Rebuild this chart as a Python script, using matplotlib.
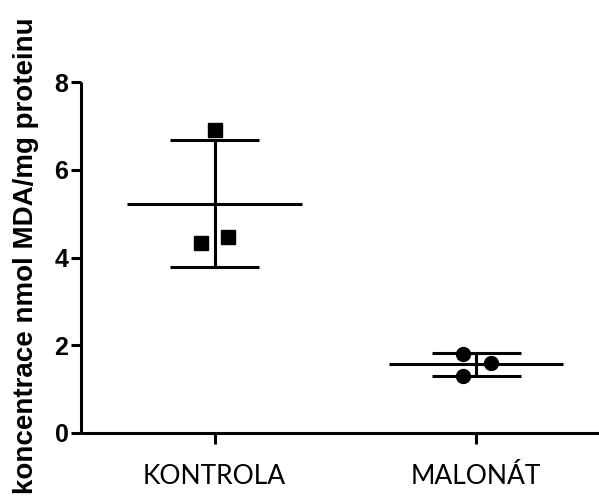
import numpy as np
import matplotlib
matplotlib.use("Agg")
import matplotlib.pyplot as plt

# group names and single measurements (nmol MDA / mg protein)
groups = ["KONTROLA", "MALONÁT"]
kontrola = [6.91, 4.32, 4.46]
malonat = [1.81, 1.59, 1.29]
# horizontal scatter of the points inside each group
kontrola_jitter = [0.0, -0.053, 0.053]
malonat_jitter = [-0.05, 0.057, -0.05]
markers = ["s", "o"]

fig = plt.figure(figsize=(5.99, 5.0), dpi=100)
ax = fig.add_axes([81 / 599, 67 / 500, 1 - 81 / 599, 351 / 500])

data = [kontrola, malonat]
jitters = [kontrola_jitter, malonat_jitter]
for i, (vals, jit) in enumerate(zip(data, jitters)):
    vals = np.array(vals)
    m = vals.mean()
    sd = vals.std(ddof=1)
    # mean line
    ax.plot([i - 0.334, i + 0.334], [m, m], color="black", lw=2.2, solid_capstyle="butt", zorder=2)
    # SD bar with caps
    ax.plot([i, i], [m - sd, m + sd], color="black", lw=2.2, solid_capstyle="butt", zorder=2)
    for y in (m - sd, m + sd):
        ax.plot([i - 0.17, i + 0.17], [y, y], color="black", lw=2.2, solid_capstyle="butt", zorder=2)
    ax.plot(i + np.array(jit), vals, linestyle="none", marker=markers[i],
            markersize=10, color="black", zorder=3)

ax.set_xlim(-0.511, 1.47)
ax.set_ylim(0, 8)
ax.set_yticks([0, 2, 4, 6, 8])
ax.set_xticks([0, 1])
ax.set_xticklabels(groups, fontfamily="Lato", fontsize=19)
for lab in ax.get_yticklabels():
    lab.set_fontfamily("Liberation Sans")
    lab.set_fontweight("bold")
    lab.set_fontsize(18)

ax.spines["top"].set_visible(False)
ax.spines["right"].set_visible(False)
for s in ("left", "bottom"):
    ax.spines[s].set_linewidth(2.2)
    ax.spines[s].set_capstyle("butt")
ax.tick_params(axis="both", width=2.2, color="black")
ax.tick_params(axis="x", length=8, pad=14)
ax.tick_params(axis="y", length=7, pad=2)

fig.text(26 / 599, 244 / 500, "koncentrace nmol MDA/mg proteinu", rotation=90,
         ha="center", va="center", rotation_mode="anchor",
         fontfamily="Liberation Sans", fontweight="bold", fontsize=20)

fig.savefig("out.png", dpi=100)
